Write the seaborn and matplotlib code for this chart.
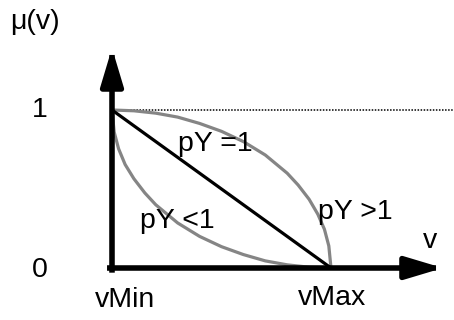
import matplotlib
matplotlib.use("Agg")
import matplotlib.pyplot as plt
import seaborn as sns
import pandas as pd

# Values (v normalised: vMin = 0, vMax = 1)
v_linear = [0.0, 1.0]
mu_linear = [1.0, 0.0]

v_concave = [0.0, 0.1, 0.2, 0.3, 0.4, 0.5, 0.6, 0.7, 0.8, 0.85, 0.9, 0.94, 0.97, 0.99, 1.0]
mu_concave = [1.0, 0.995, 0.98, 0.955, 0.915, 0.865, 0.80, 0.715, 0.60, 0.525, 0.435, 0.34, 0.245, 0.14, 0.0]

v_convex = [0.0, 0.01, 0.03, 0.06, 0.1, 0.15, 0.2, 0.3, 0.4, 0.5, 0.6, 0.7, 0.8, 0.9, 1.0]
mu_convex = [1.0, 0.86, 0.755, 0.655, 0.565, 0.475, 0.40, 0.285, 0.20, 0.135, 0.085, 0.045, 0.02, 0.005, 0.0]

tick_labels_x = ["vMin", "vMax"]
tick_labels_y = ["0", "1"]
curve_labels = ["pY =1", "pY <1", "pY >1"]

sns.set_style("white")
plt.rcParams["font.family"] = ["Liberation Sans", "DejaVu Sans"]
plt.rcParams["text.color"] = "black"

fig = plt.figure(figsize=(4.54, 3.2), dpi=100)
ax = fig.add_axes([0, 0, 1, 1])
ax.set_xlim(-112 / 219, (454 - 112) / 219)
ax.set_ylim(-(320 - 268) / 158, 268 / 158)
ax.axis("off")

# dotted reference line at mu = 1
ax.axhline(1.0, xmin=112 / 454, xmax=1, color="black", lw=1.1, ls=(0, (1, 1)))

df_con = pd.DataFrame({"v": v_concave, "mu": mu_concave})
df_vex = pd.DataFrame({"v": v_convex, "mu": mu_convex})
df_lin = pd.DataFrame({"v": v_linear, "mu": mu_linear})
sns.lineplot(data=df_con, x="v", y="mu", ax=ax, color="#858585", lw=2.3, sort=False)
sns.lineplot(data=df_vex, x="v", y="mu", ax=ax, color="#858585", lw=2.3, sort=False)
sns.lineplot(data=df_lin, x="v", y="mu", ax=ax, color="black", lw=2.3, sort=False)

# axes with arrows
arrow = dict(arrowstyle="-|>,head_length=1.5,head_width=0.45", color="black",
             lw=4.0, mutation_scale=15, shrinkA=0, shrinkB=0, capstyle="projecting")
ax.annotate("", xy=(0, 1.392), xytext=(0, -0.012), arrowprops=arrow)
ax.annotate("", xy=(1.511, 0), xytext=(-0.01, 0), arrowprops=arrow)

fs = 20.5
ax.text(-0.466, 1.557, "μ(v)", fontsize=fs, ha="left", va="center")
ax.text(-0.329, 1.0, tick_labels_y[1], fontsize=fs, ha="center", va="center")
ax.text(-0.329, -0.01, tick_labels_y[0], fontsize=fs, ha="center", va="center")
ax.text(0.06, -0.20, tick_labels_x[0], fontsize=fs, ha="center", va="center")
ax.text(1.005, -0.19, tick_labels_x[1], fontsize=fs, ha="center", va="center")
ax.text(1.452, 0.17, "v", fontsize=fs, ha="center", va="center")
ax.text(0.47, 0.785, curve_labels[0], fontsize=fs, ha="center", va="center")
ax.text(0.297, 0.30, curve_labels[1], fontsize=fs, ha="center", va="center")
ax.text(1.11, 0.354, curve_labels[2], fontsize=fs, ha="center", va="center")

plt.savefig("out.png", dpi=100)
